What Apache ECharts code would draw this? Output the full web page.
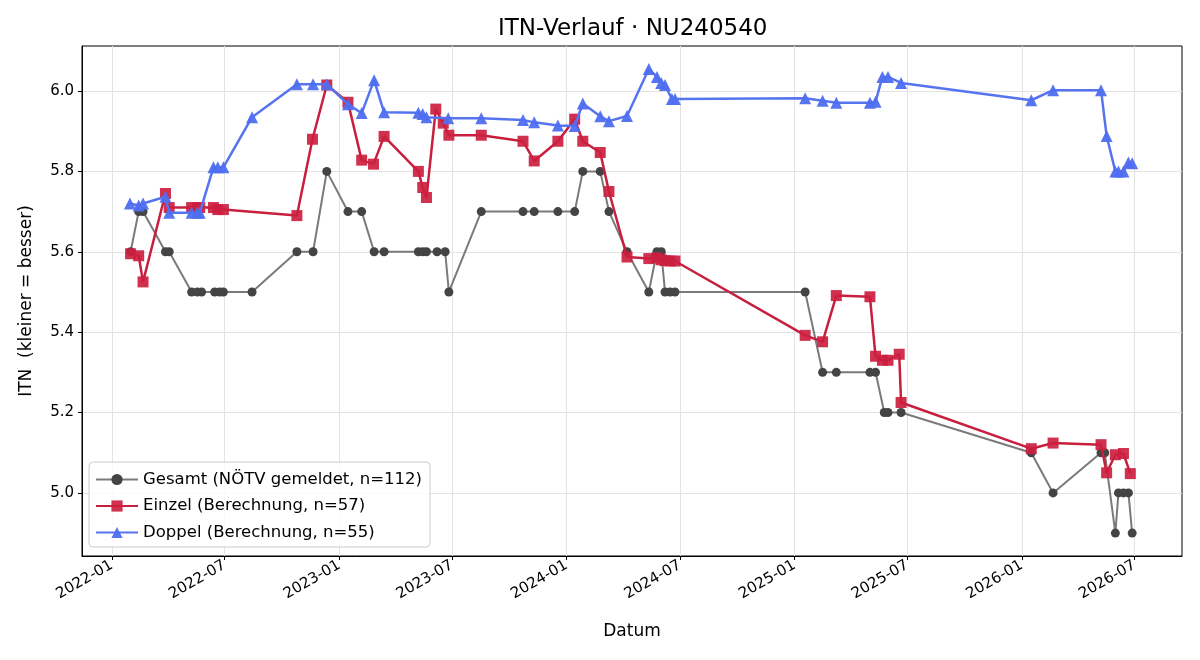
<!DOCTYPE html>
<html>
<head>
<meta charset="utf-8">
<script src="https://cdn.jsdelivr.net/npm/echarts@6/dist/echarts.min.js"></script>
<style>
  html, body { margin: 0; padding: 0; background: #fff; }
  #chart { width: 1200px; height: 660px; }
</style>
</head>
<body>
<div id="chart"></div>
<script>
// Gesamt (NÖTV gemeldet)
var gesamtDates = ['2022-01-31','2022-02-13','2022-02-20','2022-03-28','2022-04-03','2022-05-09','2022-05-18','2022-05-25',
    '2022-06-15','2022-06-23','2022-06-29','2022-08-14','2022-10-25','2022-11-20','2022-12-12','2023-01-15','2023-02-06',
    '2023-02-26','2023-03-14','2023-05-08','2023-05-15','2023-05-21','2023-06-07','2023-06-20','2023-06-26','2023-08-17',
    '2023-10-23','2023-11-10','2023-12-18','2024-01-14','2024-01-27','2024-02-24','2024-03-09','2024-04-07','2024-05-12',
    '2024-05-25','2024-06-01','2024-06-07','2024-06-15','2024-06-23','2025-01-18','2025-02-15','2025-03-09','2025-05-02',
    '2025-05-11','2025-05-25','2025-05-31','2025-06-21','2026-01-16','2026-02-20','2026-05-08','2026-05-14','2026-05-31',
    '2026-06-05','2026-06-13','2026-06-21','2026-06-27'];
var gesamtValues = [5.6,5.7,5.7,5.6,5.6,5.5,5.5,5.5,
    5.5,5.5,5.5,5.5,5.6,5.6,5.8,5.7,5.7,
    5.6,5.6,5.6,5.6,5.6,5.6,5.6,5.5,5.7,
    5.7,5.7,5.7,5.7,5.8,5.8,5.7,5.6,5.5,
    5.6,5.6,5.5,5.5,5.5,5.5,5.3,5.3,5.3,
    5.3,5.2,5.2,5.2,5.1,5.0,5.1,5.1,4.9,
    5.0,5.0,5.0,4.9];

// Einzel (Berechnung)
var einzelDates = ['2022-01-31','2022-02-13','2022-02-20','2022-03-28','2022-04-03','2022-05-09','2022-05-18','2022-05-22',
    '2022-06-13','2022-06-20','2022-06-29','2022-10-25','2022-11-19','2022-12-12','2023-01-15','2023-02-06','2023-02-25',
    '2023-03-14','2023-05-08','2023-05-15','2023-05-21','2023-06-05','2023-06-17','2023-06-26','2023-08-17','2023-10-23',
    '2023-11-10','2023-12-18','2024-01-14','2024-01-27','2024-02-24','2024-03-09','2024-04-07','2024-05-12','2024-05-25',
    '2024-06-01','2024-06-07','2024-06-15','2024-06-23','2025-01-18','2025-02-15','2025-03-09','2025-05-02','2025-05-11',
    '2025-05-22','2025-05-31','2025-06-18','2025-06-21','2026-01-16','2026-02-20','2026-05-08','2026-05-17','2026-05-31',
    '2026-06-13','2026-06-24'];
var einzelValues = [5.595,5.59,5.525,5.745,5.71,5.71,5.71,5.71,
    5.71,5.705,5.705,5.69,5.88,6.015,5.972,5.828,5.818,
    5.887,5.80,5.76,5.735,5.955,5.92,5.89,5.89,5.875,
    5.826,5.875,5.93,5.875,5.847,5.75,5.587,5.583,5.585,
    5.58,5.578,5.577,5.577,5.392,5.376,5.491,5.488,5.34,
    5.33,5.33,5.345,5.225,5.11,5.124,5.12,5.05,5.095,
    5.098,5.048];

// Doppel (Berechnung)
var doppelDates = ['2022-01-30','2022-02-13','2022-02-20','2022-03-28','2022-04-03','2022-05-09','2022-05-18','2022-05-22',
    '2022-06-13','2022-06-20','2022-06-29','2022-08-14','2022-10-25','2022-11-20','2022-12-12','2023-01-15','2023-02-06',
    '2023-02-26','2023-03-14','2023-05-08','2023-05-15','2023-05-21','2023-06-25','2023-08-17','2023-10-23','2023-11-10',
    '2023-12-18','2024-01-14','2024-01-27','2024-02-24','2024-03-09','2024-04-07','2024-05-12','2024-05-25','2024-06-01',
    '2024-06-07','2024-06-18','2024-06-23','2025-01-18','2025-02-15','2025-03-09','2025-05-02','2025-05-11','2025-05-22',
    '2025-05-31','2025-06-21','2026-01-16','2026-02-20','2026-05-08','2026-05-17','2026-05-31','2026-06-05','2026-06-13',
    '2026-06-21','2026-06-27'];
var doppelValues = [5.72,5.715,5.72,5.737,5.697,5.697,5.697,5.697,
    5.81,5.81,5.81,5.935,6.017,6.017,6.017,5.967,5.945,
    6.027,5.947,5.946,5.943,5.935,5.932,5.932,5.928,5.922,
    5.914,5.913,5.969,5.937,5.925,5.938,6.055,6.035,6.02,
    6.015,5.98,5.98,5.982,5.976,5.971,5.971,5.973,6.035,
    6.035,6.02,5.977,6.002,6.002,5.888,5.80,5.80,5.80,
    5.822,5.82];

var xTickLabels = ['2022-01','2022-07','2023-01','2023-07','2024-01','2024-07','2025-01','2025-07','2026-01','2026-07'];
var yTickValues = [5.0, 5.2, 5.4, 5.6, 5.8, 6.0];

function toTime(s) {
    var p = s.split('-');
    return new Date(+p[0], +p[1] - 1, p[2] ? +p[2] : 1).getTime();
}
function pairs(dates, values) {
    var out = [];
    for (var i = 0; i < dates.length; i++) {
        out.push([toTime(dates[i]), values[i]]);
    }
    return out;
}
function pad(n) { return n < 10 ? '0' + n : '' + n; }

var xTicks = xTickLabels.map(toTime);
var font = 'DejaVu Sans';

var chart = echarts.init(document.getElementById('chart'));
var option = {
    animation: false,
    textStyle: { fontFamily: font },
    title: {
        text: 'ITN-Verlauf · NU240540',
        left: 493,
        top: 13,
        textStyle: { fontFamily: font, fontSize: 23, fontWeight: 'normal', color: '#000' }
    },
    grid: {
        left: 82, right: 18, top: 46, bottom: 104,
        show: true, borderColor: '#000', borderWidth: 1, backgroundColor: 'transparent'
    },
    legend: {
        orient: 'vertical',
        left: 89, top: 462,
        padding: [9, 8, 6, 6],
        itemWidth: 42, itemHeight: 14, itemGap: 9.5,
        backgroundColor: 'rgba(255,255,255,0.8)',
        borderColor: '#cccccc', borderWidth: 1, borderRadius: 4,
        textStyle: { fontFamily: font, fontSize: 16.5, color: '#000' },
        data: ['Gesamt (NÖTV gemeldet, n=112)', 'Einzel (Berechnung, n=57)', 'Doppel (Berechnung, n=55)']
    },
    xAxis: {
        type: 'value',
        min: toTime('2021-11-14'),
        max: toTime('2026-09-15'),
        name: 'Datum',
        nameLocation: 'middle',
        nameGap: 67,
        nameTextStyle: { fontFamily: font, fontSize: 17, color: '#000' },
        axisLine: { show: true, onZero: false, lineStyle: { color: '#000', width: 1 } },
        axisTick: { show: true, inside: false, length: 4, lineStyle: { color: '#000' }, customValues: xTicks },
        axisLabel: {
            customValues: xTicks,
            rotate: 30,
            fontFamily: font, fontSize: 15, color: '#000', margin: 8,
            formatter: function (v) {
                var d = new Date(v);
                return d.getFullYear() + '-' + pad(d.getMonth() + 1);
            }
        },
        splitLine: { show: true, lineStyle: { color: '#e3e3e3', width: 1 } }
    },
    yAxis: {
        type: 'value',
        min: 4.843,
        max: 6.112,
        name: 'ITN  (kleiner = besser)',
        nameLocation: 'middle',
        nameGap: 47,
        nameTextStyle: { fontFamily: font, fontSize: 17, color: '#000' },
        axisLine: { show: true, onZero: false, lineStyle: { color: '#000', width: 1 } },
        axisTick: { show: true, inside: false, length: 4, lineStyle: { color: '#000' }, customValues: yTickValues },
        axisLabel: {
            customValues: yTickValues,
            fontFamily: font, fontSize: 15, color: '#000', margin: 8,
            formatter: function (v) { return v.toFixed(1); }
        },
        splitLine: { show: true, lineStyle: { color: '#e3e3e3', width: 1 } }
    },
    series: [
        {
            name: 'Gesamt (NÖTV gemeldet, n=112)',
            type: 'line',
            data: pairs(gesamtDates, gesamtValues),
            symbol: 'circle',
            symbolSize: 9,
            showAllSymbol: true,
            z: 2,
            lineStyle: { color: '#7a7a7a', width: 2 },
            itemStyle: { color: '#444444', opacity: 1 }
        },
        {
            name: 'Einzel (Berechnung, n=57)',
            type: 'line',
            data: pairs(einzelDates, einzelValues),
            symbol: 'rect',
            symbolSize: 11,
            showAllSymbol: true,
            z: 3,
            lineStyle: { color: '#c91f3e', width: 2.5 },
            itemStyle: { color: '#cc1f40', opacity: 0.92 }
        },
        {
            name: 'Doppel (Berechnung, n=55)',
            type: 'line',
            data: pairs(doppelDates, doppelValues),
            symbol: 'triangle',
            symbolSize: 12,
            showAllSymbol: true,
            z: 4,
            lineStyle: { color: '#5674ef', width: 2.5 },
            itemStyle: { color: '#4f6ef0', opacity: 0.95 }
        }
    ]
};
chart.setOption(option);
</script>
</body>
</html>
